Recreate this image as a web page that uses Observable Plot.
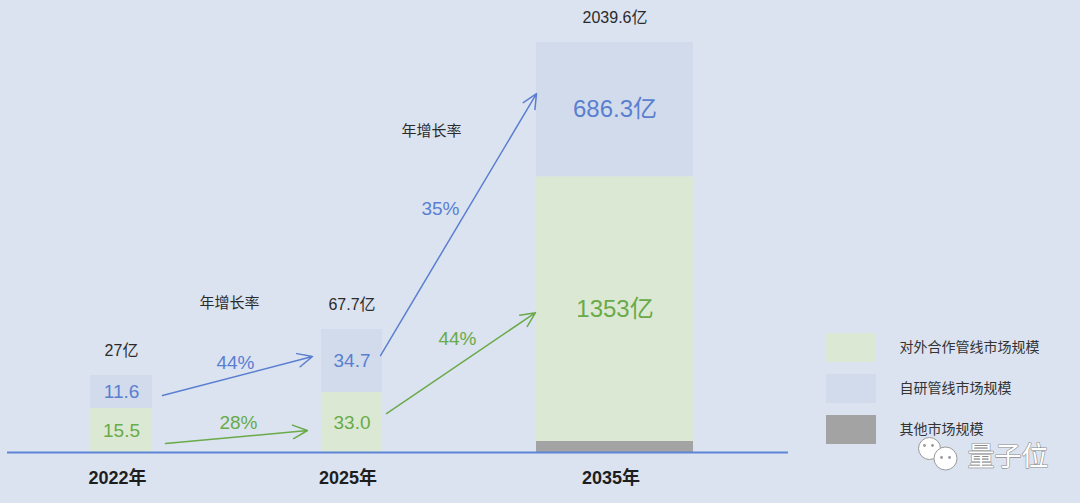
<!DOCTYPE html>
<html><head><meta charset="utf-8">
<script src="https://cdn.jsdelivr.net/npm/d3@7"></script>
<script src="https://cdn.jsdelivr.net/npm/@observablehq/plot@0.6"></script>
<style>
html,body{margin:0;padding:0;background:#dbe3f0;overflow:hidden;}
#chart svg{display:block;}
</style></head><body><div id="chart"></div>
<script>
// ---------------- data ----------------
const years = ["2022年", "2025年", "2035年"];
const seriesNames = ["其他市场规模", "对外合作管线市场规模", "自研管线市场规模"];
const otherValues = [0, 0, 0.3];
const partnerValues = [15.5, 33.0, 1353];
const inhouseValues = [11.6, 34.7, 686.3];
const totalValues = [27, 67.7, 2039.6];
const legendOrder = ["对外合作管线市场规模", "自研管线市场规模", "其他市场规模"];
const growthFromYear = ["2022年", "2022年", "2025年", "2025年"];
const growthToYear = ["2025年", "2025年", "2035年", "2035年"];
const growthSeries = ["自研管线市场规模", "对外合作管线市场规模", "自研管线市场规模", "对外合作管线市场规模"];
const growthRates = [44, 28, 35, 44];
const growthTitle = "年增长率";
const watermarkText = "量子位";

// ---------------- layout / style ----------------
const W = 1080, H = 503, BASE = 452;
const FONT = '"Liberation Sans","Noto Sans CJK SC","Noto Sans",sans-serif';
const BG = "#dbe3f0";
const fillColor = {"其他市场规模": "#a3a3a3", "对外合作管线市场规模": "#dbe9d4", "自研管线市场规模": "#d2dbec"};
const textColor = {"对外合作管线市场规模": "#6aaa48", "自研管线市场规模": "#5a7fd0"};
const barCenter = [121, 351.5, 614.5];
const barWidth = [62, 61, 157];
const barDisplayHeight = [77, 123, 410]; // schematic: bars are not drawn to a common scale
const minSegment = 11;
// arrow offsets [startDx, startDy, endDx, endDy] in px (dy downward) from bar edge / segment middle
const arrowOffsets = [[10, 3.5, -9, -4.5], [13, 13, -14, 8], [-2, -5.5, 0, -16], [4, -9, -1, 3.5]];
const rateLabelOffsets = [[-2, -13.5], [2, -14.5], [-18, -16], [-3.5, -24.5]];
const growthTitleOffsets = [[-7.5, 149], [-28, 321]];

// ---------------- geometry ----------------
const segs = [];
years.forEach((yr, i) => {
  const vals = [otherValues[i], partnerValues[i], inhouseValues[i]];
  const sum = d3.sum(vals);
  const fixed = vals.map(v => (v > 0 && v / sum * barDisplayHeight[i] < minSegment) ? minSegment : null);
  const fixedSum = d3.sum(fixed.filter(f => f != null));
  const flexSum = d3.sum(vals.filter((v, j) => fixed[j] == null));
  const k = (barDisplayHeight[i] - fixedSum) / flexSum;
  let y = 0;
  vals.forEach((v, j) => {
    if (!(v > 0)) return;
    const h = fixed[j] ?? v * k;
    segs.push({year: yr, i, series: seriesNames[j], value: v, y1: y, y2: y + h,
      x1: barCenter[i] - barWidth[i] / 2, x2: barCenter[i] + barWidth[i] / 2});
    y += h;
  });
});
const segOf = (yr, s) => segs.find(d => d.year === yr && d.series === s);
const mid = d => (d.y1 + d.y2) / 2;
const barTop = i => d3.max(segs.filter(d => d.i === i), d => d.y2);

const valueLabels = segs.filter(d => d.series !== "其他市场规模").map(d => ({
  ...d, text: d.year === "2035年" ? `${d.value}亿` : d.value.toFixed(1), big: d.year === "2035年"
}));
const totals = years.map((yr, i) => ({x: barCenter[i], y: barTop(i) + 25, text: `${totalValues[i]}亿`}));
const yearLabels = years.map((yr, i) => ({x: barCenter[i] - 4, y: -26, text: yr}));

const growth = growthRates.map((r, g) => {
  const a = segOf(growthFromYear[g], growthSeries[g]);
  const b = segOf(growthToYear[g], growthSeries[g]);
  const o = arrowOffsets[g];
  const x1 = a.x2 + o[0], y1 = mid(a) - o[1], x2 = b.x1 + o[2], y2 = mid(b) - o[3];
  return {series: growthSeries[g], rate: r, x1, y1, x2, y2,
    lx: (x1 + x2) / 2 + rateLabelOffsets[g][0], ly: (y1 + y2) / 2 - rateLabelOffsets[g][1]};
});
const gapTitles = [[0, 1], [1, 2]].map(([a, b], n) => ({
  x: (barCenter[a] + barWidth[a] / 2 + barCenter[b] - barWidth[b] / 2) / 2 + growthTitleOffsets[n][0],
  y: growthTitleOffsets[n][1], text: growthTitle
}));
const legend = legendOrder.map((s, n) => ({series: s, x1: 826, x2: 876, y1: BASE - 333 - 41 * n - 29, y2: BASE - 333 - 41 * n, tx: 899, ty: BASE - 347 - 41 * n}));

const marks = [];
for (const s of seriesNames) {
  marks.push(Plot.rect(segs.filter(d => d.series === s), {x1: "x1", x2: "x2", y1: "y1", y2: "y2", fill: fillColor[s]}));
}
marks.push(Plot.ruleY([0], {x1: 7, x2: 788, stroke: "#5d86d8", strokeWidth: 2}));
for (const s of ["对外合作管线市场规模", "自研管线市场规模"]) {
  marks.push(Plot.text(valueLabels.filter(d => d.series === s && !d.big), {x: d => barCenter[d.i], y: d => mid(d), text: "text", fill: textColor[s], fontSize: 19, fontFamily: FONT}));
  marks.push(Plot.text(valueLabels.filter(d => d.series === s && d.big), {x: d => barCenter[d.i], y: d => mid(d), text: "text", fill: textColor[s], fontSize: 24, fontFamily: FONT}));
  const gs = growth.filter(d => d.series === s);
  marks.push(Plot.arrow(gs, {x1: "x1", y1: "y1", x2: "x2", y2: "y2", bend: 0, stroke: textColor[s], strokeWidth: 1.5, headLength: 16, headAngle: 50}));
  marks.push(Plot.text(gs, {x: "lx", y: "ly", text: d => `${d.rate}%`, fill: textColor[s], fontSize: 19, fontFamily: FONT}));
}
marks.push(Plot.text(totals, {x: "x", y: "y", text: "text", fill: "#2b2b2b", fontSize: 16, fontFamily: FONT}));
marks.push(Plot.text(gapTitles, {x: "x", y: "y", text: "text", fill: "#2b2b2b", fontSize: 15, fontFamily: FONT}));
marks.push(Plot.text(yearLabels, {x: "x", y: "y", text: "text", fill: "#1e1e1e", fontSize: 18, fontWeight: "bold", fontFamily: FONT}));
for (const s of legendOrder) {
  const l = legend.filter(d => d.series === s);
  marks.push(Plot.rect(l, {x1: "x1", x2: "x2", y1: "y1", y2: "y2", fill: fillColor[s]}));
  marks.push(Plot.text(l, {x: "tx", y: "ty", text: "series", textAnchor: "start", fill: "#333", fontSize: 14, fontFamily: FONT}));
}
// watermark (WeChat-style bubbles + name)
marks.push(Plot.dot([{x: 929, y: BASE - 448}], {x: "x", y: "y", r: 11, fill: "white", stroke: "#999", strokeWidth: 1}));
marks.push(Plot.dot([{x: 945, y: BASE - 458}], {x: "x", y: "y", r: 11.5, fill: "white", stroke: "#999", strokeWidth: 1}));
marks.push(Plot.dot([{x: 924, y: BASE - 445}, {x: 932, y: BASE - 445}, {x: 941, y: BASE - 457}, {x: 949, y: BASE - 457}], {x: "x", y: "y", r: 1.4, fill: "#999"}));
marks.push(Plot.text([watermarkText], {x: 967, y: BASE - 457, text: d => d, textAnchor: "start", fill: "white", stroke: "#8c8c8c", strokeWidth: 1.2, fontSize: 27, fontFamily: FONT}));

const chart = Plot.plot({
  width: W, height: H, margin: 0,
  x: {domain: [0, W], range: [0, W], axis: null},
  y: {domain: [BASE - H, BASE], range: [H, 0], axis: null},
  style: {background: BG, fontFamily: FONT},
  marks
});
document.getElementById("chart").appendChild(chart);
</script>
</body></html>
